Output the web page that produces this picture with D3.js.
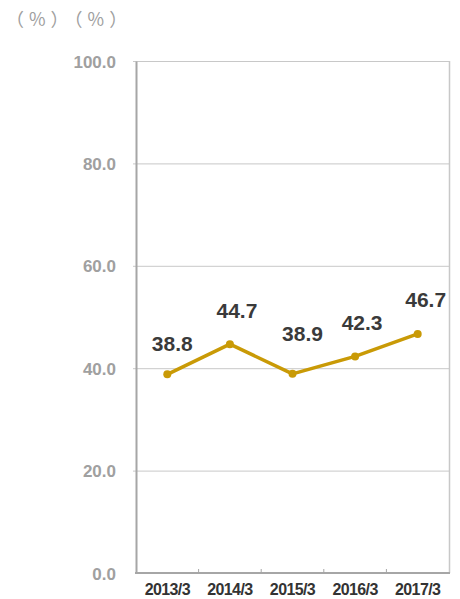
<!DOCTYPE html>
<html>
<head>
<meta charset="utf-8">
<script src="https://cdn.jsdelivr.net/npm/d3@7"></script>
<style>
  html, body { margin: 0; padding: 0; background: #fff; }
  svg { display: block; }
</style>
</head>
<body>
<svg id="chart" width="460" height="599"></svg>
<script>
const categories = ["2013/3", "2014/3", "2015/3", "2016/3", "2017/3"];
const values = [38.8, 44.7, 38.9, 42.3, 46.7];
const yTicks = [0, 20, 40, 60, 80, 100];
const unitLabel = "（%）（%）";

// label offset styling (pixels above each point)
const labelLift = [23, 26, 33, 26, 27];
const labelShift = [5, 7, 10, 7, 8];

const svg = d3.select("#chart");
const margin = { left: 136, right: 11, top: 61, bottom: 26 };
const W = 460, H = 599;
const x = d3.scaleBand().domain(categories).range([margin.left, W - margin.right]);
const y = d3.scaleLinear().domain([0, 100]).range([H - margin.bottom, margin.top]);

// gridlines
svg.append("g").selectAll("line").data(yTicks.filter(d => d > 0)).join("line")
  .attr("x1", margin.left - 3).attr("x2", W - margin.right)
  .attr("y1", d => y(d) + 0.5).attr("y2", d => y(d) + 0.5)
  .attr("stroke", "#c8c8c8").attr("stroke-width", 1);

// right border
svg.append("line")
  .attr("x1", W - margin.right + 0.5).attr("x2", W - margin.right + 0.5)
  .attr("y1", y(100)).attr("y2", y(0))
  .attr("stroke", "#c8c8c8").attr("stroke-width", 1.5);

// y axis
const yAxis = d3.axisLeft(y).tickValues(yTicks).tickSize(0).tickPadding(20).tickFormat(d3.format(".1f"));
const gy = svg.append("g").attr("transform", `translate(${margin.left},0)`).call(yAxis);
gy.select(".domain").attr("stroke", "#a6a6a6").attr("stroke-width", 2);
gy.selectAll("text")
  .attr("fill", "#a0a0a0")
  .style("font-family", "'Liberation Sans', Arial, sans-serif")
  .style("font-size", "17px").style("font-weight", "bold")
  .attr("dy", "0.36em");

// x axis
const gx = svg.append("g").attr("transform", `translate(0,${y(0)})`);
gx.append("line").attr("x1", margin.left - 1).attr("x2", W - margin.right + 1)
  .attr("y1", 0).attr("y2", 0).attr("stroke", "#a6a6a6").attr("stroke-width", 2);
const bounds = categories.slice(1).map(c => x(c));
gx.selectAll("line.tk").data(bounds).join("line").attr("class", "tk")
  .attr("x1", d => d).attr("x2", d => d).attr("y1", 0).attr("y2", -4)
  .attr("stroke", "#a6a6a6").attr("stroke-width", 1);
gx.selectAll("text").data(categories).join("text")
  .attr("x", d => x(d) + x.bandwidth() / 2).attr("y", 22)
  .attr("text-anchor", "middle")
  .attr("fill", "#333")
  .style("font-family", "'Liberation Sans', Arial, sans-serif")
  .style("font-size", "16px").style("font-weight", "bold")
  .style("letter-spacing", "-0.6px")
  .text(d => d);

// line
const pts = categories.map((c, i) => ({ c, v: values[i], i }));
const line = d3.line().x(d => x(d.c) + x.bandwidth() / 2).y(d => y(d.v));
svg.append("path").datum(pts).attr("d", line)
  .attr("fill", "none").attr("stroke", "#c99a06").attr("stroke-width", 3.5)
  .attr("stroke-linejoin", "round");
svg.append("g").selectAll("circle").data(pts).join("circle")
  .attr("cx", d => x(d.c) + x.bandwidth() / 2).attr("cy", d => y(d.v))
  .attr("r", 4).attr("fill", "#c99a06");

// value labels
svg.append("g").selectAll("text").data(pts).join("text")
  .attr("x", d => x(d.c) + x.bandwidth() / 2 + labelShift[d.i])
  .attr("y", d => y(d.v) - labelLift[d.i])
  .attr("text-anchor", "middle")
  .attr("fill", "#3a3a3a")
  .style("font-family", "'Liberation Sans', Arial, sans-serif")
  .style("font-size", "21px").style("font-weight", "bold")
  .text(d => d.v.toFixed(1));

// unit label
svg.append("text").attr("x", 6).attr("y", 26)
  .attr("fill", "#a0a0a0")
  .style("font-family", "'Noto Sans CJK JP', sans-serif")
  .style("font-size", "18px")
  .style("letter-spacing", "5px")
  .text(unitLabel);
</script>
</body>
</html>
